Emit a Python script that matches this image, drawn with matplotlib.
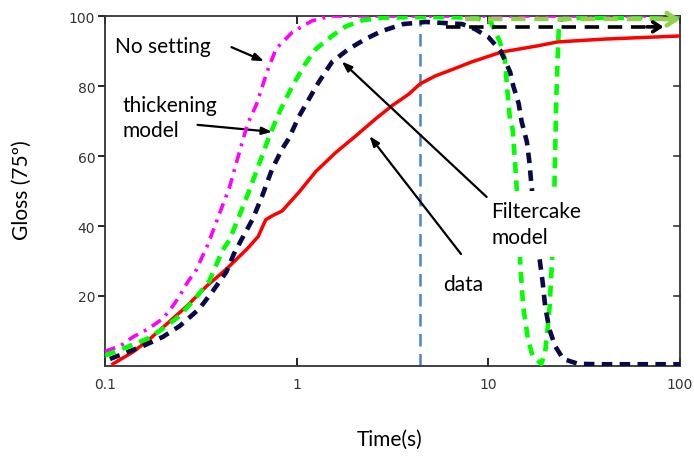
import numpy as np
import matplotlib
matplotlib.use("Agg")
import matplotlib.pyplot as plt

# values (time in s, gloss)
nosetting_t = [0.1, 0.12, 0.14, 0.168, 0.2, 0.225, 0.245, 0.27, 0.3, 0.32, 0.343,
               0.405, 0.446, 0.49, 0.553, 0.62, 0.7, 0.78, 0.95, 1.2, 1.5, 3.0, 10, 100]
nosetting_g = [4.2, 5.7, 8.3, 10.6, 13.5, 17, 20, 24, 27.5, 31, 34.5,
               45, 51, 59, 69, 75, 84, 90.6, 95.4, 98.6, 100, 100, 100, 100]

thick_t = [0.1, 0.13, 0.165, 0.2, 0.245, 0.3, 0.35, 0.41, 0.446, 0.52, 0.57, 0.63,
           0.72, 0.82, 0.95, 1.1, 1.26, 1.53, 1.8, 2.2, 2.8, 4.0, 6.0, 8.5, 10.3, 11.5,
           12.2, 12.6, 13.0, 13.4, 14.0, 14.4, 14.7, 15.2, 16.1, 17.0, 18.9, 19.8,
           20.3, 20.9, 21.2, 21.6, 22.0, 22.3, 22.6, 23.0, 23.3, 23.8, 30, 100]
thick_g = [3, 5.4, 7.7, 10.6, 14.3, 19.7, 24.3, 33, 36, 45, 50.6, 57,
           65.7, 73, 80, 86, 90.6, 94.3, 97, 98.8, 99.5, 99.7, 99.7, 99.5, 98.3, 92.6,
           87.7, 78, 70, 67.7, 52.6, 40, 28.6, 17, 7.7, 2.9, 0.6, 4,
           9.7, 17, 24, 32, 45, 60, 75, 88, 96, 99, 99.5, 99.5]

cake_t = [0.106, 0.158, 0.2, 0.245, 0.31, 0.365, 0.43, 0.47, 0.52, 0.59, 0.66,
          0.745, 0.84, 0.91, 1.03, 1.3, 1.53, 1.87, 2.3, 2.78, 3.6, 4.7, 7.3, 8.5,
          10.0, 11.6, 13.0, 13.5, 14.4, 14.9, 15.9, 16.4, 16.8, 17.8, 18.6, 19.2,
          19.8, 20.8, 22.3, 24.6, 29.5, 40, 100]
cake_g = [2, 5.7, 8.3, 11.4, 16.3, 21.4, 26.9, 32, 36.5, 42, 48.5,
          56.3, 62, 65, 71.4, 81, 86.9, 90.6, 93.5, 95.7, 97.7, 98.3, 97.7, 96.3,
          94, 90, 84, 80, 75, 70, 64, 58, 51.4, 40, 29.7, 24,
          17, 10.6, 5.7, 2, 0.6, 0.5, 0.5]

data_t = [0.11, 0.14, 0.171, 0.21, 0.266, 0.34, 0.43, 0.55, 0.63, 0.66, 0.69,
          0.745, 0.84, 1.03, 1.26, 1.6, 2.03, 2.58, 3.13, 3.85, 4.4, 5.3, 6.2,
          8.2, 11.7, 18.2, 23, 40, 100]
data_g = [0.6, 4, 7.7, 12, 17, 22.9, 27.7, 33.4, 37, 39.5, 41.8,
          42.9, 44.3, 49.7, 55.6, 61, 65.7, 70.6, 74.3, 77.7, 80.6, 82.9, 84.3,
          86.9, 89.7, 91.5, 92.6, 93.4, 94.3]

vline_t = 4.38
vline_top = 98.3

FONT = ["Lato", "DejaVu Sans"]

fig = plt.figure(figsize=(6.94, 4.6), dpi=100)
ax = fig.add_axes([0.1513, 0.2022, 0.8285, 0.7608])

ax.plot(data_t, data_g, color="#ff0000", lw=2.5, solid_joinstyle="round", zorder=3)
ax.plot(nosetting_t, nosetting_g, color="#ff00ff", lw=2.6,
        dashes=(3.0, 1.8, 0.8, 1.8), zorder=4)
ax.plot(thick_t, thick_g, color="#00ff00", lw=3.3, dashes=(2.4, 1.6), zorder=4)
ax.plot(cake_t, cake_g, color="#0a0a46", lw=3.3, dashes=(2.3, 1.6), zorder=5)
ax.plot([vline_t, vline_t], [0, vline_top], color="#4a86c8", lw=1.8,
        dashes=(5, 3), zorder=2)

# the two horizontal dashed arrows near the top
ax.plot([7.6, 92], [99.1, 99.1], color="#92d050", lw=3.2, dashes=(3.2, 2.0),
        zorder=6, clip_on=False)
ax.annotate("", xy=(104, 99.1), xytext=(80, 99.1), annotation_clip=False,
            arrowprops=dict(arrowstyle="->,head_length=0.7,head_width=0.45",
                            color="#92d050", lw=3.2), zorder=6)
ax.plot([6.0, 78], [96.9, 96.9], color="black", lw=2.6, dashes=(4, 2.4), zorder=6)
ax.annotate("", xy=(85, 96.9), xytext=(65, 96.9), annotation_clip=False,
            arrowprops=dict(arrowstyle="->,head_length=0.55,head_width=0.35",
                            color="black", lw=2.6), zorder=6)

# labels with arrows
arrow = dict(arrowstyle="-|>,head_length=0.6,head_width=0.22", color="black",
             lw=1.6, shrinkA=0, shrinkB=0)
ax.text(0.113, 91.4, "No setting", fontsize=15, family=FONT, va="center")
ax.annotate("", xy=(0.676, 87.1), xytext=(0.457, 91.1), arrowprops=arrow)
ax.text(0.124, 71, "thickening\nmodel", fontsize=15, family=FONT, va="center",
        linespacing=1.35)
ax.annotate("", xy=(0.745, 66.9), xytext=(0.304, 68.9), arrowprops=arrow)
# white box behind this label hides the model curves, as in the original
ax.text(10.4, 40.6, "Filtercake\nmodel", fontsize=15, family=FONT, va="center",
        linespacing=1.35, zorder=7,
        bbox=dict(boxstyle="square,pad=0.5", fc="white", ec="none"))
ax.annotate("", xy=(1.72, 87.0), xytext=(9.8, 48.3), arrowprops=arrow, zorder=8)
ax.text(5.83, 23.4, "data", fontsize=15, family=FONT, va="center")
ax.annotate("", xy=(2.4, 65.7), xytext=(7.2, 32.0), arrowprops=arrow)

ax.set_xscale("log")
ax.set_xlim(0.1, 100)
ax.set_ylim(0, 100)
ax.set_xticks([0.1, 1, 10, 100])
ax.set_xticklabels(["0.1", "1", "10", "100"])
ax.minorticks_off()
ax.set_yticks([20, 40, 60, 80, 100])
ax.tick_params(axis="x", direction="in", length=6, top=True, width=1.2,
               labelsize=10, labelcolor="#333333", pad=8)
ax.tick_params(axis="y", direction="out", length=5, right=False, width=1.2,
               labelsize=10, labelcolor="#333333", pad=2)
# short inward ticks on the right spine
for yv in [20, 40, 60, 80]:
    ax.plot([0.99, 1.0], [yv, yv], transform=ax.get_yaxis_transform(),
            color="#333333", lw=1.2, clip_on=False)
for s in ax.spines.values():
    s.set_color("#333333")
    s.set_linewidth(1.3)

fig.text(390 / 694, 1 - 440 / 460, "Time(s)", fontsize=15, family=FONT,
         ha="center", va="center")
fig.text(22 / 694, 1 - 190 / 460, "Gloss (75º)", fontsize=15, family=FONT,
         ha="center", va="center", rotation=90)

fig.savefig("out.png", dpi=100)
